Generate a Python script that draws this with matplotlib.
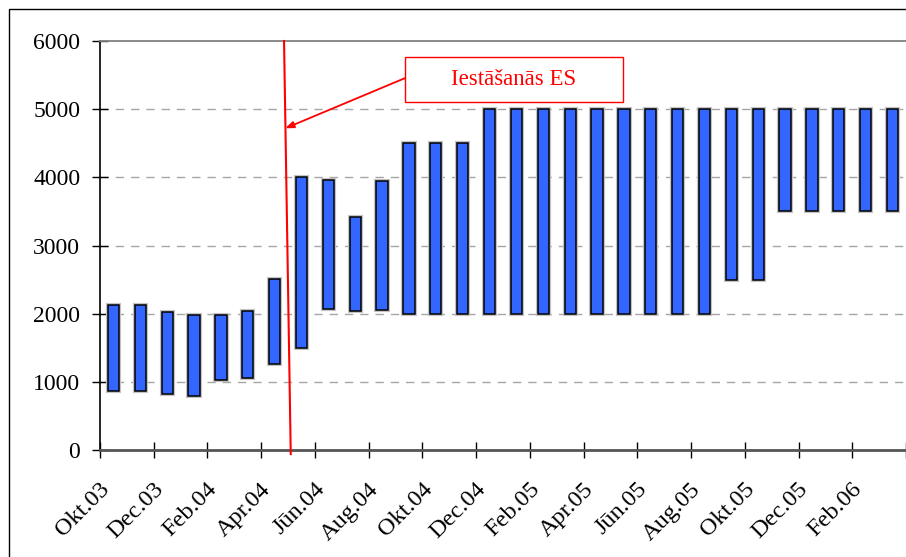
import numpy as np
import matplotlib
matplotlib.use("Agg")
import matplotlib.pyplot as plt
import matplotlib.patheffects as pe
from matplotlib.patches import Rectangle
from matplotlib.transforms import ScaledTranslation

plt.rcParams['font.family'] = ['Liberation Serif', 'DejaVu Serif']

# Mēneši (Okt.03 - Mar.06)
menesi = ['Okt.03', 'Nov.03', 'Dec.03', 'Jan.04', 'Feb.04', 'Mar.04', 'Apr.04',
          'Mai.04', 'Jūn.04', 'Jūl.04', 'Aug.04', 'Sep.04', 'Okt.04', 'Nov.04',
          'Dec.04', 'Jan.05', 'Feb.05', 'Mar.05', 'Apr.05', 'Mai.05', 'Jūn.05',
          'Jūl.05', 'Aug.05', 'Sep.05', 'Okt.05', 'Nov.05', 'Dec.05', 'Jan.06',
          'Feb.06', 'Mar.06']
min_vertiba = [860, 860, 815, 790, 1030, 1060, 1260, 1500, 2065, 2045, 2060,
               2000, 2000, 2000, 2000, 2000, 2000, 2000, 2000, 2000, 2000, 2000,
               2000, 2500, 2500, 3500, 3500, 3500, 3500, 3500]
max_vertiba = [2130, 2130, 2030, 1980, 1975, 2040, 2510, 4000, 3955, 3420, 3940,
               4500, 4500, 4500, 5000, 5000, 5000, 5000, 5000, 5000, 5000, 5000,
               5000, 5000, 5000, 5000, 5000, 5000, 5000, 5000]
y_ticks = [0, 1000, 2000, 3000, 4000, 5000, 6000]
anotacija = 'Iestāšanās ES'

x = np.arange(len(menesi))
lo = np.array(min_vertiba)
hi = np.array(max_vertiba)

fig = plt.figure(figsize=(9.06, 5.57), dpi=100)
ax = fig.add_axes([100 / 906, 107 / 557, 806 / 906, 409 / 557])

# gridlines
for yv in y_ticks[1:-1]:
    ax.axhline(yv, color='#a6a6a6', lw=1, ls=(0, (6, 5)), zorder=0)

bars = ax.bar(x, hi - lo, bottom=lo, width=0.42, color='#3366ff',
              edgecolor='black', linewidth=1.1, zorder=2)
for b in bars:
    b.set_path_effects([pe.withStroke(linewidth=3, foreground='#c4c4c4')])

ax.set_xlim(-0.5, len(menesi) - 0.5)
ax.set_ylim(0, 6000)

ax.set_yticks(y_ticks)
ax.tick_params(axis='y', direction='inout', length=11.5, width=1,
               labelsize=17, pad=8.5)

# category ticks between months, labels on every second month
ax.set_xticks(np.arange(-0.5, len(menesi), 2))
ax.set_xticklabels([])
ax.set_xticks(x[::2], minor=True)
ax.set_xticklabels(menesi[::2], minor=True, rotation=45, ha='right',
                   va='center', rotation_mode='anchor')
ax.tick_params(axis='x', which='major', direction='inout', length=12,
               width=1, color='black')
ax.tick_params(axis='x', which='minor', length=0, labelsize=17.5, pad=26)
shift = ScaledTranslation(-7 / 100, 0, fig.dpi_scale_trans)
for lbl in ax.get_xticklabels(minor=True):
    lbl.set_transform(lbl.get_transform() + shift)

ax.spines['right'].set_visible(False)
ax.spines['top'].set_color('#808080')
ax.spines['top'].set_linewidth(1.3)
ax.spines['left'].set_linewidth(1.2)
ax.spines['bottom'].set_color('#555555')
ax.spines['bottom'].set_linewidth(2)

# EU accession line and label
ax.plot([6.35, 6.6], [6000, -60], color='red', lw=1.5, clip_on=False, zorder=3)
ax.add_patch(Rectangle((10.85, 5100), 8.1, 670, facecolor='white',
                       edgecolor='red', lw=1, zorder=4))
ax.text(14.9, 5440, anotacija, color='red', fontsize=16.5,
        ha='center', va='center', zorder=5)
ax.annotate('', xy=(6.4, 4720), xytext=(10.85, 5455),
            arrowprops=dict(arrowstyle='-|>,head_length=0.5,head_width=0.2',
                            color='red', lw=1.3, shrinkA=0, shrinkB=0),
            zorder=4)

# outer chart frame
fig.patches.append(Rectangle((9 / 906, -1), 2, 1 + (1 - 9 / 557),
                             transform=fig.transFigure, fill=False,
                             edgecolor='black', lw=1))

fig.savefig('out.png', dpi=100)
